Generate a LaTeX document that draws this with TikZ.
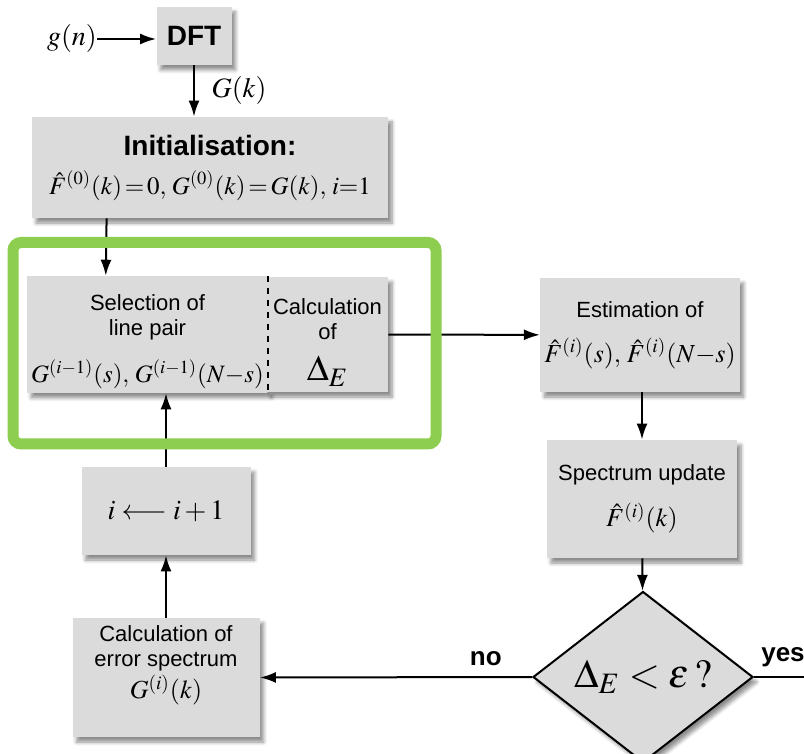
\documentclass[tikz,border=0pt]{standalone}
\usepackage{mathptmx}
\usepackage[no-math]{fontspec}
\setmainfont{Liberation Serif}
\setsansfont{Liberation Sans}
\usetikzlibrary{shapes.geometric,shadows.blur,arrows.meta}
\definecolor{framegreen}{RGB}{141,206,80}

\begin{document}
\begin{tikzpicture}[x=0.5pt, y=-0.5pt]
            \tikzstyle{block}=[rectangle,fill=black!14,inner sep=2pt,align=center,blur shadow={shadow xshift=2pt,shadow yshift=-2.5pt,shadow blur steps=6,shadow opacity=45},font=\sffamily\fontsize{11}{12.5}\selectfont]
            \tikzstyle{test}=[diamond,draw,line width=1pt,fill=black!14,inner sep=0pt,blur shadow={shadow xshift=2pt,shadow yshift=-2.5pt,shadow blur steps=6,shadow opacity=45}]
            \tikzstyle{arr}=[-{Latex[length=8pt,width=5.5pt]},line width=1pt]
            \tikzstyle{big}=[font=\fontsize{14}{16}\selectfont]

            \useasboundingbox (0,0) rectangle (804,754);

            \node[big,inner sep=0pt] (gn) at (72,39) {$g(n)$};
            \node[block,minimum width=37.5pt,minimum height=29pt,font=\sffamily\bfseries\fontsize{14}{16}\selectfont] (dft) at (194,36) {DFT};
            \node[block,minimum width=178pt,minimum height=50.5pt] (init) at (210,167.5) {{\bfseries\fontsize{14}{16}\selectfont Initialisation:}\\[7pt] {\fontsize{12.5}{15}\selectfont $\hat F^{(0)}(k)\,{=}\,0,\, G^{(0)}(k)\,{=}\,G(k),\, i{=}1$}};
            \node[block,minimum width=119.5pt,minimum height=57.5pt] (sel) at (147.5,334.5) {\rule{0pt}{15pt}Selection of\\line pair\\[9pt] {\fontsize{12.5}{15}\selectfont $G^{(i-1)}(s),\, G^{(i-1)}(N{-}s)$}};
            \node[block,minimum width=60.5pt,minimum height=57.5pt] (calc) at (327.5,334.5) {\rule{0pt}{16pt}Calculation\\of\\[8pt] {\fontsize{18}{18}\selectfont $\Delta_E$}};
            \node[block,minimum width=99pt,minimum height=57pt] (est) at (640,335) {Estimation of\\[10pt] {\fontsize{13}{15}\selectfont $\hat F^{(i)}(s),\, \hat F^{(i)}(N{-}s)$}};
            \node[block,minimum width=95pt,minimum height=59pt] (upd) at (642,499) {Spectrum update\\[8pt] {\fontsize{13}{15}\selectfont $\hat F^{(i)}(k)$}};
            \node[test,minimum width=110pt,minimum height=76pt] (dec) at (643,677) {\fontsize{20}{22}\selectfont $\Delta_E<\varepsilon\,?$};
            \node[block,minimum width=93.5pt,minimum height=59.5pt] (err) at (166,677.5) {Calculation of\\error spectrum\\[1pt] {\fontsize{13}{15}\selectfont $G^{(i)}(k)$}\\[3pt]};
            \node[block,minimum width=84.5pt,minimum height=44pt] (inc) at (166,511) {\fontsize{14}{16}\selectfont $i \longleftarrow i+1$};
            \coordinate (out) at (812,677);

            \draw (sel.north east) edge[dashed,line width=1pt] (sel.south east);

            \draw[arr] (gn.east) -- (gn.east -| dft.west);
            \draw[arr] (dft.south) -- (dft.south |- init.north) node[midway,right=5pt,big] {$G(k)$};
            \draw[arr] ([xshift=37.5pt]init.south west) -- ([xshift=39.5pt]sel.north west);
            \draw[arr] (calc) -- (est);
            \draw[arr] (upd.north |- est.south) -- (upd.north);
            \draw[arr] (upd) -- (dec);
            \draw[arr] (dec.west) -- (err.east) node[pos=0.17,above=2pt,font=\sffamily\bfseries\fontsize{13}{15}\selectfont] {no};
            \draw[line width=1pt] (dec.east) -- (out) node[pos=0.5,above=1pt,font=\sffamily\bfseries\fontsize{13}{15}\selectfont] {yes};
            \draw[arr] (err) -- (inc);
            \draw[arr] (inc.north) -- (inc.north |- sel.south);

            % frame round the selection step
            \draw[framegreen,line width=5.5pt,rounded corners=4pt] (13,242.5) rectangle (436,444);
\end{tikzpicture}
\end{document}
